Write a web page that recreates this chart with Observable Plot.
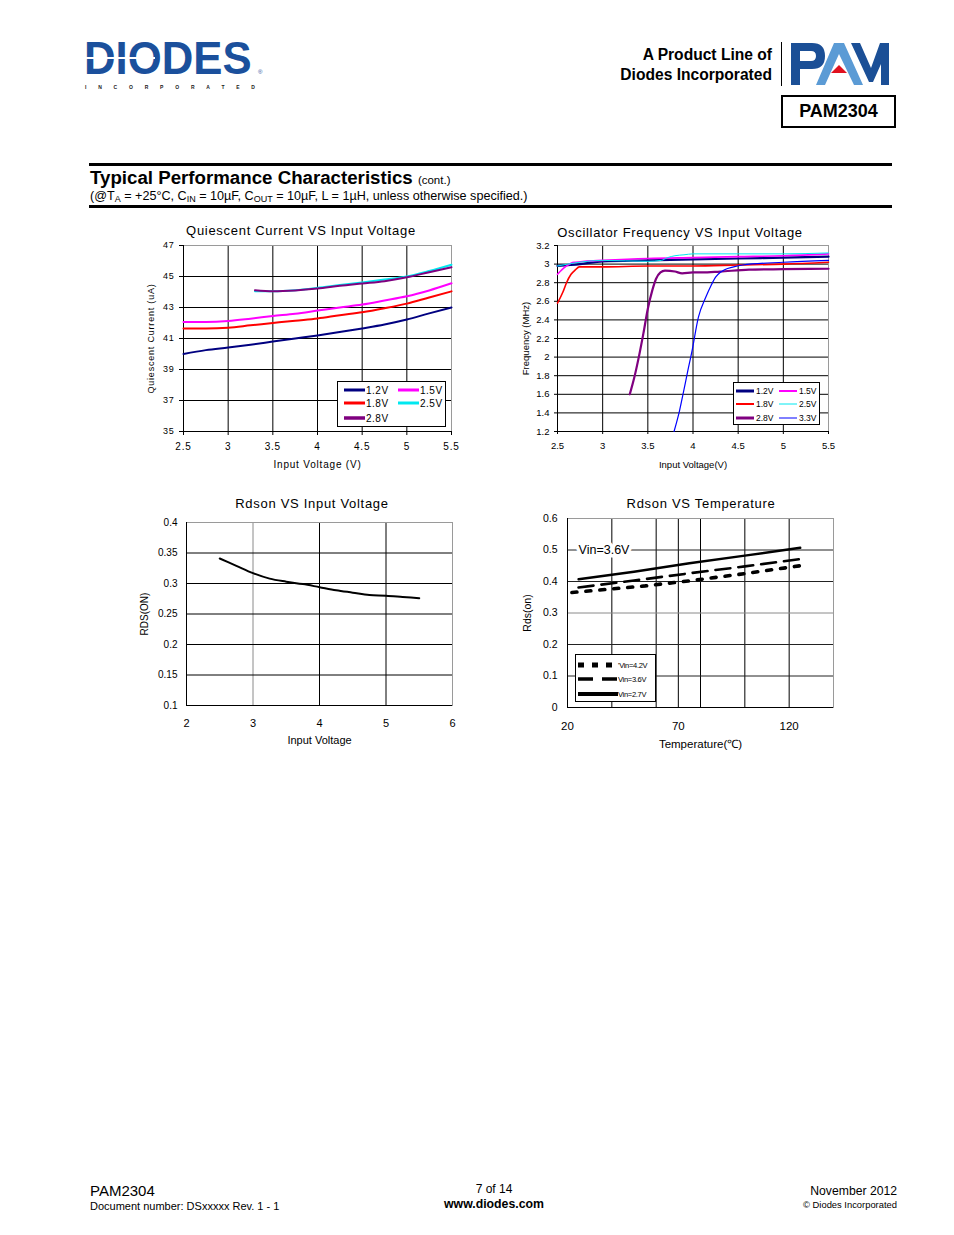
<!DOCTYPE html>
<html><head><meta charset="utf-8">
<script src="https://cdn.jsdelivr.net/npm/d3@7"></script>
<script src="https://cdn.jsdelivr.net/npm/@observablehq/plot@0.6"></script>
<style>
html,body{margin:0;padding:0;background:#fff}
body{position:relative;width:954px;height:1235px;overflow:hidden;font-family:"Liberation Sans",Arial,Helvetica,sans-serif;color:#000}
.a{position:absolute;white-space:nowrap}
.ttl{position:absolute;text-align:center;font-size:13px;letter-spacing:0.7px;white-space:nowrap;line-height:16px}
.lg{position:absolute;border:1px solid #000;background:#fff;box-sizing:border-box}
.li{position:absolute;white-space:nowrap;display:flex;align-items:center}
sub{font-size:9px;vertical-align:-2px;line-height:0}
</style></head><body>

<svg class="a" style="left:80px;top:24px" width="190" height="70">
  <text transform="translate(4,50) scale(0.93,1)" font-family="Liberation Sans, Arial" font-weight="bold" font-size="47" fill="#1b509c">DIODES</text>
  <rect x="5" y="33" width="70" height="2" fill="#fff"/>
  <text x="5" y="64.5" font-family="Liberation Sans, Arial" font-size="5" font-weight="bold" fill="#222" textLength="170" lengthAdjust="spacing">INCORPORATED</text>
  <text x="178" y="50" font-size="6" fill="#1b509c">®</text>
</svg>

<div class="a" style="right:182px;top:45px;text-align:right;font-weight:bold;font-size:15.6px;line-height:20px">A Product Line of<br>Diodes Incorporated</div>
<div class="a" style="left:781px;top:42px;width:1px;height:44px;background:#000"></div>
<svg class="a" style="left:785px;top:38px" width="110" height="52">
  <path fill="#1b4f96" fill-rule="evenodd" d="M6 5 H27 Q40 5 40 18 Q40 31 27 31 H15 V47 H6 Z M15 13 H26 Q31 13 31 18 Q31 23 26 23 H15 Z"/>
  <polygon fill="#5b9bd5" points="49,5 59,5 78,47 69,47 54,16 40,47 31,47"/>
  <polygon fill="#e0101e" points="54,27 62,35 46,35"/>
  <polygon fill="#1b4f96" points="66,5 75,5 86,30 95,5 104,5 104,47 96,47 96,26 88,44 84,44"/>
</svg>
<div class="a" style="left:781px;top:95px;width:115px;height:33px;border:2px solid #000;box-sizing:border-box;text-align:center;font-weight:bold;font-size:18px;line-height:29px">PAM2304</div>

<div class="a" style="left:89px;top:163px;width:803px;height:3px;background:#000"></div>
<div class="a" style="left:90px;top:166px;font-weight:bold;font-size:18.7px;line-height:23px">Typical Performance Characteristics <span style="font-size:11.5px;font-weight:normal">(cont.)</span></div>
<div class="a" style="left:90px;top:189px;font-size:12.6px;line-height:15px">(@T<sub>A</sub> = +25°C, C<sub>IN</sub> = 10µF, C<sub>OUT</sub> = 10µF, L = 1µH, unless otherwise specified.)</div>
<div class="a" style="left:89px;top:205px;width:803px;height:3px;background:#000"></div>

<div class="ttl" style="left:151px;width:300px;top:223px">Quiescent Current VS Input Voltage</div>
<div class="ttl" style="left:530px;width:300px;top:225px">Oscillator Frequency VS Input Voltage</div>
<div class="ttl" style="left:162px;width:300px;top:496px">Rdson VS Input Voltage</div>
<div class="ttl" style="left:551px;width:300px;top:496px">Rdson VS Temperature</div>

<div class="a" style="left:90px;top:1182px;font-size:15px;line-height:17px">PAM2304</div>
<div class="a" style="left:90px;top:1200px;font-size:11px;line-height:13px">Document number: DSxxxxx Rev. 1 - 1</div>
<div class="a" style="left:394px;width:200px;text-align:center;top:1183px;font-size:12px;line-height:13px">7 of 14</div>
<div class="a" style="left:394px;width:200px;text-align:center;top:1197px;font-size:12.3px;line-height:14px;font-weight:bold">www.diodes.com</div>
<div class="a" style="right:57px;top:1184px;font-size:12.2px;line-height:14px;text-align:right">November 2012</div>
<div class="a" style="right:57px;top:1199px;font-size:9.4px;line-height:11px;text-align:right">© Diodes Incorporated</div>

<script>
// ---------- Chart 1: Quiescent Current VS Input Voltage ----------
const qcXTicks = [2.5, 3, 3.5, 4, 4.5, 5, 5.5];
const qcYTicks = [35, 37, 39, 41, 43, 45, 47];
const qcSeries = ["1.2V", "1.5V", "1.8V", "2.5V", "2.8V"];
const qcColors = ["#000080", "#ff00ff", "#ff0000", "#00e8f0", "#7f007f"];
const qcVinFull = [2.5, 2.75, 3, 3.25, 3.5, 3.75, 4, 4.25, 4.5, 4.75, 5, 5.25, 5.5];
const qc12 = [40.0, 40.25, 40.42, 40.6, 40.8, 41.0, 41.2, 41.42, 41.65, 41.9, 42.22, 42.62, 43.0];
const qc15 = [42.07, 42.07, 42.13, 42.28, 42.45, 42.6, 42.8, 43.0, 43.19, 43.45, 43.72, 44.1, 44.56];
const qc18 = [41.65, 41.65, 41.7, 41.85, 42.0, 42.15, 42.29, 42.5, 42.69, 42.95, 43.25, 43.65, 44.04];
const qcVinHi = [3.3, 3.5, 3.75, 4, 4.25, 4.5, 4.75, 5, 5.25, 5.5];
const qc25 = [44.05, 44.05, 44.12, 44.27, 44.45, 44.62, 44.8, 45.0, 45.35, 45.76];
const qc28 = [44.12, 44.05, 44.1, 44.22, 44.4, 44.55, 44.7, 44.95, 45.28, 45.6];

// ---------- Chart 2: Oscillator Frequency VS Input Voltage ----------
const ofXTicks = [2.5, 3, 3.5, 4, 4.5, 5, 5.5];
const ofYTicks = [1.2, 1.4, 1.6, 1.8, 2, 2.2, 2.4, 2.6, 2.8, 3, 3.2];
const ofSeries = ["1.2V", "1.5V", "1.8V", "2.5V", "2.8V", "3.3V"];
const ofColors = ["#000080", "#ff00ff", "#ff0000", "#00e8f0", "#800080", "#0000ff"];
const ofWidths = [2.2, 1.6, 1.6, 1, 2.2, 1.2];
const ofV12 = [2.5, 2.75, 3, 3.5, 4, 4.5, 5, 5.5];
const of12 = [2.98, 3.0, 3.03, 3.04, 3.05, 3.06, 3.07, 3.08];
const ofV15 = [2.5, 2.55, 2.6, 2.65, 2.7, 2.8, 3, 3.5, 4, 4.5, 5, 5.5];
const of15 = [2.89, 2.94, 2.98, 3.01, 3.02, 3.03, 3.04, 3.06, 3.07, 3.08, 3.09, 3.11];
const ofV18 = [2.5, 2.56, 2.6, 2.65, 2.7, 2.74, 2.8, 3, 3.5, 4, 4.5, 5, 5.5];
const of18 = [2.58, 2.7, 2.8, 2.89, 2.94, 2.97, 2.97, 2.97, 2.98, 2.98, 2.99, 3.0, 3.02];
const ofV25 = [2.5, 3, 3.5, 3.65, 3.72, 3.8, 3.9, 4, 4.5, 5, 5.5];
const of25 = [2.98, 3.04, 3.03, 3.04, 3.07, 3.09, 3.1, 3.11, 3.11, 3.11, 3.12];
const ofV28 = [3.3, 3.35, 3.4, 3.45, 3.5, 3.55, 3.59, 3.64, 3.69, 3.8, 3.88, 4, 4.1, 4.3, 4.62, 5, 5.5];
const of28 = [1.6, 1.78, 2.0, 2.25, 2.52, 2.72, 2.84, 2.91, 2.93, 2.92, 2.90, 2.91, 2.91, 2.92, 2.94, 2.945, 2.95];
const ofV33 = [3.79, 3.85, 3.9, 3.94, 3.99, 4.06, 4.14, 4.2, 4.25, 4.3, 4.35, 4.45, 4.55, 5, 5.5];
const of33 = [1.2, 1.42, 1.65, 1.84, 2.07, 2.43, 2.64, 2.77, 2.86, 2.91, 2.94, 2.97, 2.99, 3.02, 3.04];

// ---------- Chart 3: Rdson VS Input Voltage ----------
const rvXTicks = [2, 3, 4, 5, 6];
const rvYTicks = [0.1, 0.15, 0.2, 0.25, 0.3, 0.35, 0.4];
const rvVin = [2.5, 2.75, 3, 3.25, 3.5, 3.75, 4, 4.25, 4.5, 4.75, 5, 5.25, 5.5];
const rvRds = [0.341, 0.329, 0.317, 0.308, 0.303, 0.299, 0.294, 0.289, 0.285, 0.281, 0.280, 0.278, 0.276];

// ---------- Chart 4: Rdson VS Temperature ----------
const rtXTicks = [20, 70, 120];
const rtXGrid = [40, 60, 70, 80, 100, 120];
const rtYTicks = [0, 0.1, 0.2, 0.3, 0.4, 0.5, 0.6];
const rtSeries = ["'Vin=4.2V", "Vin=3.6V", "Vin=2.7V"];
const rtTemp = [25, 50, 75, 100, 125];
const rtTemp42 = [22, 55, 75, 100, 125];
const rt42 = [0.365, 0.386, 0.402, 0.425, 0.45];
const rt36 = [0.381, 0.403, 0.426, 0.448, 0.471];
const rt27 = [0.407, 0.431, 0.458, 0.482, 0.507];
const rtNote = [{t: 25, v: 0.5, label: "Vin=3.6V"}];

const FONT = "Liberation Sans, Arial, Helvetica, sans-serif";
const zip = (xs, ys) => xs.map((x, i) => ({x, y: ys[i]}));
function put(svg, left, top) {
  svg.style.position = "absolute";
  svg.style.left = left + "px";
  svg.style.top = top + "px";
  document.body.appendChild(svg);
}
function legend({left, top, width, height, names, colors, widths, dashes, cols, rowY, colX, lineLen, fontSize, gap, spacing}) {
  const box = document.createElement("div");
  box.className = "lg";
  Object.assign(box.style, {left: left + "px", top: top + "px", width: width + "px", height: height + "px"});
  names.forEach((n, i) => {
    const r = Math.floor(i / cols), c = i % cols;
    const item = document.createElement("div");
    item.className = "li";
    Object.assign(item.style, {left: colX[c] + "px", top: (rowY[r] - 7) + "px", height: "14px", fontSize: fontSize + "px", letterSpacing: spacing});
    const dash = dashes && dashes[i] ? `stroke-dasharray="${dashes[i]}"` : "";
    item.innerHTML = `<svg width="${lineLen}" height="14" style="display:block"><line x1="0" x2="${lineLen}" y1="7" y2="7" stroke="${colors[i]}" stroke-width="${widths[i]}" ${dash}/></svg><span style="margin-left:${gap}px">${n}</span>`;
    box.appendChild(item);
  });
  document.body.appendChild(box);
}

// Chart 1
{
  const series = [qc12, qc15, qc18, qc25, qc28];
  const xs = [qcVinFull, qcVinFull, qcVinFull, qcVinHi, qcVinHi];
  const svg = Plot.plot({
    width: 340, height: 240, marginLeft: 53, marginRight: 19, marginTop: 10, marginBottom: 44,
    style: {fontFamily: FONT, fontSize: "10px", color: "#000", background: "transparent", letterSpacing: "0.8px"},
    x: {domain: [2.5, 5.5]},
    y: {domain: [35, 47]},
    marks: [
      Plot.gridX(qcXTicks.slice(1, -1), {stroke: "#000", strokeOpacity: 1}),
      Plot.gridY(qcYTicks.slice(1, -1), {stroke: "#000", strokeOpacity: 1}),
      Plot.frame({stroke: "#9a9a9a"}),
      Plot.ruleX([2.5], {stroke: "#000"}),
      Plot.ruleY([35], {stroke: "#000"}),
      Plot.axisX(qcXTicks, {tickSize: 4, tickPadding: 7, tickFormat: String, label: "Input Voltage (V)", labelAnchor: "center", labelArrow: "none", labelOffset: 36}),
      Plot.axisY(qcYTicks, {tickSize: 4, tickPadding: 5, tickFormat: String, label: "Quiescent Current (uA)", labelAnchor: "center", labelArrow: "none", labelOffset: 36, fontSize: 9}),
      ...series.map((s, i) => Plot.line(zip(xs[i], s), {x: "x", y: "y", stroke: qcColors[i], strokeWidth: 2, curve: "monotone-x"}))
    ]
  });
  put(svg, 130, 235);
  legend({left: 337, top: 381, width: 109, height: 46, names: qcSeries, colors: qcColors, widths: [3, 3, 3, 3, 3.5], cols: 2,
    rowY: [8, 21, 36], colX: [6, 60], lineLen: 21, fontSize: 10, gap: 1, spacing: "0.5px"});
}

// Chart 2
{
  const series = [of12, of15, of18, of25, of28, of33];
  const xs = [ofV12, ofV15, ofV18, ofV25, ofV28, ofV33];
  const svg = Plot.plot({
    width: 330, height: 235, marginLeft: 42, marginRight: 17, marginTop: 7, marginBottom: 42,
    style: {fontFamily: FONT, fontSize: "8.5px", color: "#000", background: "transparent"},
    x: {domain: [2.5, 5.5]},
    y: {domain: [1.2, 3.2]},
    marks: [
      Plot.gridX(ofXTicks.slice(1, -1), {stroke: "#000", strokeOpacity: 1}),
      Plot.gridY(ofYTicks.slice(1, -1), {stroke: "#000", strokeOpacity: 1}),
      Plot.frame({stroke: "#9a9a9a"}),
      Plot.ruleX([2.5], {stroke: "#000"}),
      Plot.ruleY([1.2], {stroke: "#000"}),
      Plot.axisX(ofXTicks, {tickSize: 3, tickPadding: 8, tickFormat: String, label: "Input Voltage(V)", labelAnchor: "center", labelArrow: "none", labelOffset: 36, fontSize: 9.5}),
      Plot.axisY(ofYTicks, {tickSize: 3, tickPadding: 5, tickFormat: String, label: "Frequency (MHz)", labelAnchor: "center", labelArrow: "none", labelOffset: 35, fontSize: 9.5}),
      ...series.map((s, i) => Plot.line(zip(xs[i], s), {x: "x", y: "y", stroke: ofColors[i], strokeWidth: ofWidths[i], curve: "monotone-x"}))
    ]
  });
  put(svg, 515, 238);
  legend({left: 733, top: 382, width: 87, height: 43, names: ofSeries, colors: ofColors, widths: [3, 2, 2, 1, 3, 1], cols: 2,
    rowY: [8, 21, 35], colX: [2, 45], lineLen: 18, fontSize: 8.5, gap: 2, spacing: "0px"});
}

// Chart 3
{
  const svg = Plot.plot({
    width: 340, height: 240, marginLeft: 56, marginRight: 18, marginTop: 10, marginBottom: 47,
    style: {fontFamily: FONT, fontSize: "11px", color: "#000", background: "transparent"},
    x: {domain: [2, 6]},
    y: {domain: [0.1, 0.4]},
    marks: [
      Plot.gridX([3], {stroke: "#8a8a8a", strokeOpacity: 1}),
      Plot.gridX([4, 5], {stroke: "#000", strokeOpacity: 1}),
      Plot.gridY(rvYTicks.slice(1, -1), {stroke: "#000", strokeOpacity: 1}),
      Plot.frame({stroke: "#9a9a9a"}),
      Plot.ruleX([2], {stroke: "#000"}),
      Plot.ruleY([0.1], {stroke: "#000"}),
      Plot.axisX(rvXTicks, {tickSize: 0, tickPadding: 14, tickFormat: String, label: "Input Voltage", labelAnchor: "center", labelArrow: "none", labelOffset: 38, letterSpacing: "-0.6px"}),
      Plot.axisY(rvYTicks, {tickSize: 0, tickPadding: 9, tickFormat: String, label: "RDS(ON)", labelAnchor: "center", labelArrow: "none", labelOffset: 46, fontSize: 10}),
      Plot.line(zip(rvVin, rvRds), {x: "x", y: "y", stroke: "#000", strokeWidth: 2, curve: "monotone-x"})
    ]
  });
  put(svg, 130, 512);
}

// Chart 4
{
  const series = [rt42, rt36, rt27];
  const xs = [rtTemp42, rtTemp, rtTemp];
  const dashes = ["5,9", "15,8", null];
  const widths = [3.6, 2.6, 2.4];
  const svg = Plot.plot({
    width: 330, height: 245, marginLeft: 52, marginRight: 12, marginTop: 8, marginBottom: 48,
    style: {fontFamily: FONT, fontSize: "11.5px", color: "#000", background: "transparent"},
    x: {domain: [20, 140]},
    y: {domain: [0, 0.6]},
    marks: [
      Plot.gridX(rtXGrid, {stroke: "#000", strokeOpacity: 1}),
      Plot.gridY([0.1, 0.2, 0.4, 0.5], {stroke: "#222", strokeOpacity: 1}),
      Plot.gridY([0.3], {stroke: "#8a8a8a", strokeOpacity: 1}),
      Plot.frame({stroke: "#9a9a9a"}),
      Plot.ruleX([20], {stroke: "#000"}),
      Plot.ruleY([0], {stroke: "#000"}),
      Plot.axisX(rtXTicks, {tickSize: 0, tickPadding: 14, tickFormat: String, label: "Temperature(℃)", labelAnchor: "center", labelArrow: "none", labelOffset: 40, letterSpacing: "-0.5px"}),
      Plot.axisY(rtYTicks, {tickSize: 0, tickPadding: 10, tickFormat: String, label: "Rds(on)", labelAnchor: "center", labelArrow: "none", labelOffset: 44, fontSize: 10.5, letterSpacing: "0.5px"}),
      ...series.map((s, i) => Plot.line(zip(xs[i], s), {x: "x", y: "y", stroke: "#000", strokeWidth: widths[i], strokeDasharray: dashes[i] || undefined})),
      Plot.text(rtNote, {x: "t", y: "v", text: "label", textAnchor: "start", fontSize: 12.5, letterSpacing: "0.6px", stroke: "#fff", strokeWidth: 7, fill: "#000"})
    ]
  });
  put(svg, 515, 510);
  legend({left: 575, top: 654, width: 81, height: 48, names: rtSeries, colors: ["#000", "#000", "#000"], widths: [5, 3.5, 4], dashes: ["6,8", "15,9", null], cols: 1,
    rowY: [10, 24, 39], colX: [2], lineLen: 40, fontSize: 7.5, gap: 0, spacing: "-0.3px"});
}
</script>
</body></html>
